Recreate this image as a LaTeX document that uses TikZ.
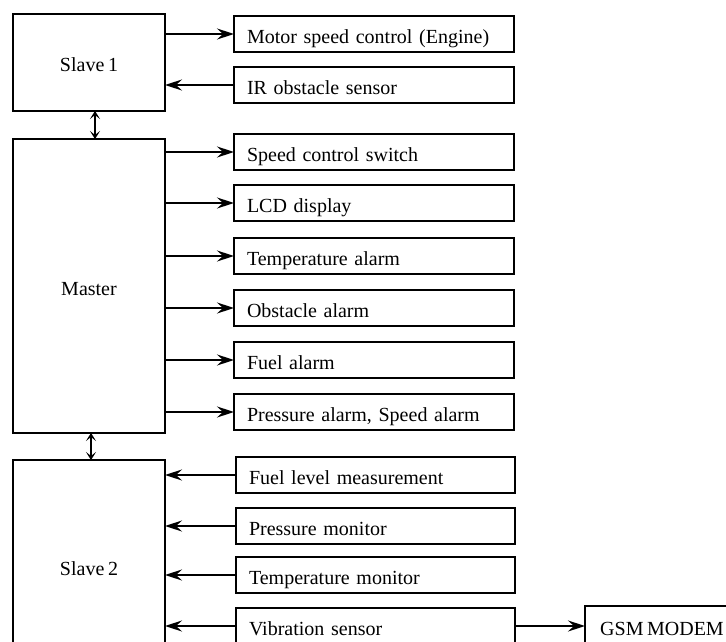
\documentclass[tikz,border=0pt]{standalone}
\usepackage{fontspec}
\setmainfont{Liberation Serif}
\usetikzlibrary{arrows.meta,positioning}
\newcommand\diagfont{\fontsize{20}{23}\selectfont\spaceskip=0.18em plus 0.1em minus 0.05em\relax}

\begin{document}
\begin{tikzpicture}[
    x=1pt,y=1pt,
    font=\diagfont,
    block/.style={draw=black,line width=2pt,outer sep=0pt,minimum width=152pt,align=center,text height=19pt,text depth=0pt},
    sbox/.style={draw=black,line width=2pt,outer sep=0pt,minimum height=36pt,text width=254pt,inner xsep=13pt,align=left,text height=19pt,text depth=0pt},
    arrow/.style={-{Stealth[length=17pt,width=11pt,inset=6pt]},line width=2pt},
    dbl/.style={{Stealth[length=8pt,width=10pt,inset=4pt]}-{Stealth[length=8pt,width=10pt,inset=4pt]},line width=2pt}
  ]
    \useasboundingbox (0,0) rectangle (726,-642);
    % controllers
    \node[block,minimum height=97pt] (slave1) at (89,-62.5) {Slave 1};
    \node[block,minimum height=294pt,below=28pt of slave1] (master) {Master};
    \node[block,minimum height=212pt,below=27pt of master] (slave2) {Slave 2};
    % slave 1 side
    \node[sbox,below right=2pt and 69pt of slave1.north east] (motor) {Motor speed control (Engine)};
    \node[sbox,below=15pt of motor] (irsens) {IR obstacle sensor};
    % master side
    \node[sbox,below=31pt of irsens] (spdsw) {Speed control switch};
    \node[sbox,below=15pt of spdsw] (lcd) {LCD display};
    \node[sbox,below=17pt of lcd] (tempal) {Temperature alarm};
    \node[sbox,below=16pt of tempal] (obsal) {Obstacle alarm};
    \node[sbox,below=16pt of obsal] (fuelal) {Fuel alarm};
    \node[sbox,below=16pt of fuelal] (presal) {Pressure alarm, Speed alarm};
    % slave 2 side
    \node[sbox,text width=253pt,below right=-3pt and 71pt of slave2.north east] (fuellvl) {Fuel level measurement};
    \node[sbox,text width=253pt,below=15pt of fuellvl] (presmon) {Pressure monitor};
    \node[sbox,text width=253pt,below=13pt of presmon] (tempmon) {Temperature monitor};
    \node[sbox,text width=253pt,below=15pt of tempmon] (vib) {Vibration sensor};
    \node[block,minimum width=154pt,minimum height=40pt,right=70pt of vib] (gsm) {GSM MODEM};
    % links
    \draw[dbl] ([xshift=6pt]slave1.south) -- ([xshift=6pt]master.north);
    \draw[dbl] ([xshift=2pt]master.south) -- ([xshift=2pt]slave2.north);
    \draw[arrow] (slave1.east |- motor) -- (motor);
    \draw[arrow] (irsens) -- (slave1.east |- irsens);
    \foreach \n in {spdsw,lcd,tempal,obsal,fuelal,presal}
      \draw[arrow] (master.east |- \n) -- (\n);
    \foreach \n in {fuellvl,presmon,tempmon,vib}
      \draw[arrow] (\n) -- (slave2.east |- \n);
    \draw[arrow] (vib) -- (gsm);
  \end{tikzpicture}
\end{document}
